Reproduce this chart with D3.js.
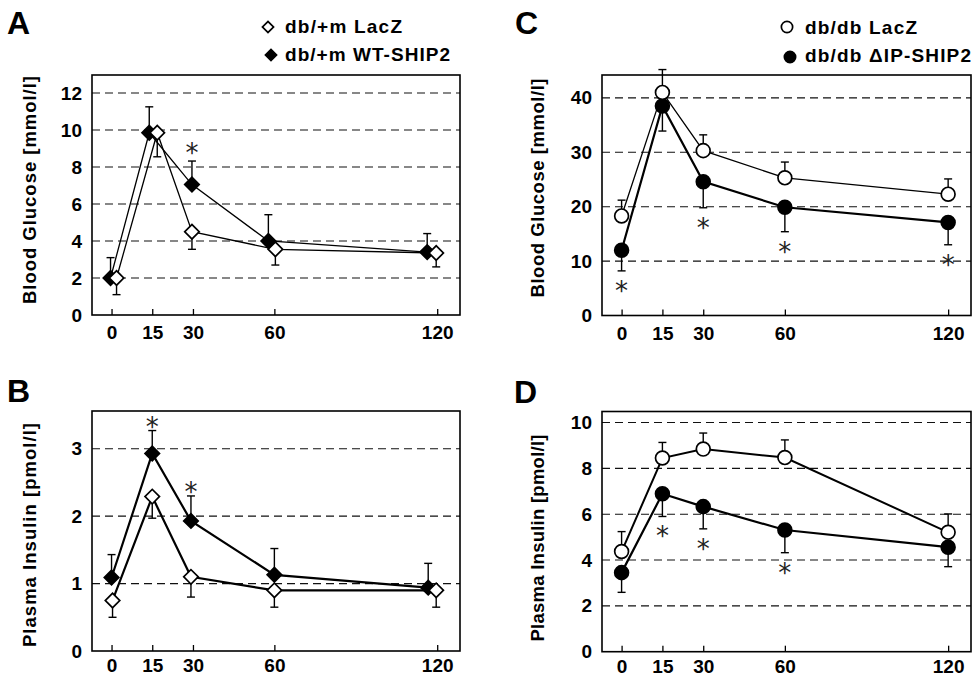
<!DOCTYPE html>
<html>
<head>
<meta charset="utf-8">
<script src="https://cdn.jsdelivr.net/npm/d3@7"></script>
<style>
  body { margin: 0; background: #fff; }
  svg { display: block; font-family: "Liberation Sans", Arial, sans-serif; }
</style>
</head>
<body>
<svg id="chart" width="974" height="679"></svg>
<script>
// time points (min)
const times = [0, 15, 30, 60, 120]

// A - blood glucose, db/+m
const glucLacZ_A = [2.0, 9.85, 4.5, 3.55, 3.35]
const glucLacZ_A_err = [0.9, 1.3, 0.95, 0.85, 0.75]
const glucWT_A = [2.0, 9.85, 7.05, 4.0, 3.4]
const glucWT_A_err = [1.1, 1.4, 1.27, 1.42, 1.0]

// B - plasma insulin, db/+m
const insLacZ_B = [0.75, 2.29, 1.1, 0.9, 0.9]
const insLacZ_B_err = [0.25, 0.32, 0.3, 0.25, 0.25]
const insWT_B = [1.09, 2.93, 1.93, 1.13, 0.94]
const insWT_B_err = [0.34, 0.34, 0.37, 0.39, 0.36]

// C - blood glucose, db/db
const glucLacZ_C = [18.3, 41.0, 30.3, 25.3, 22.3]
const glucLacZ_C_err = [2.9, 4.2, 2.9, 2.9, 2.8]
const glucDIP_C = [12.0, 38.5, 24.6, 19.9, 17.1]
const glucDIP_C_err = [3.8, 4.6, 4.8, 4.5, 4.1]

// D - plasma insulin, db/db
const insLacZ_D = [4.37, 8.45, 8.84, 8.47, 5.21]
const insLacZ_D_err = [0.87, 0.68, 0.7, 0.77, 0.8]
const insDIP_D = [3.45, 6.89, 6.33, 5.31, 4.56]
const insDIP_D_err = [0.86, 0.99, 0.97, 0.99, 0.85]

// significant time points (*)
const sigA = [30]
const sigB = [15, 30]
const sigC = [0, 30, 60, 120]
const sigD = [15, 30, 60]

const yTicksA = [0, 2, 4, 6, 8, 10, 12]
const yTicksB = [0, 1, 2, 3]
const yTicksC = [0, 10, 20, 30, 40]
const yTicksD = [0, 2, 4, 6, 8, 10]

const svg = d3.select('#chart')

function drawPanel(p) {
    var x = d3.scaleLinear().domain([-7.2, 128.4]).range([p.left, p.right])
    var y = d3.scaleLinear().domain([0, p.ymax]).range([p.bottom, p.top])
    var g = svg.append('g')

    // dashed grid
    g.selectAll('.grid').data(p.yticks.filter(d => d > 0)).enter().append('line')
        .attr('x1', p.left).attr('x2', p.right)
        .attr('y1', d => y(d)).attr('y2', d => y(d))
        .attr('stroke', '#111').attr('stroke-width', 1.1)
        .attr('stroke-dasharray', '8,5')

    // y tick labels
    var yAxis = d3.axisLeft(y).tickValues(p.yticks).tickFormat(d3.format('d')).tickSize(0).tickPadding(10)
    var ya = g.append('g').attr('transform', 'translate(' + p.left + ',0)').call(yAxis)
    ya.select('.domain').remove()
    ya.selectAll('text').attr('font-size', 19).attr('font-weight', 'bold')
        .attr('font-family', '"Liberation Sans", Arial, sans-serif').attr('fill', '#000')

    // x axis, ticks pointing inward
    var xAxis = d3.axisBottom(x).tickValues(times).tickSizeInner(-6).tickSizeOuter(0).tickPadding(p.xPad)
    var xa = g.append('g').attr('transform', 'translate(0,' + p.bottom + ')').call(xAxis)
    xa.select('.domain').remove()
    xa.selectAll('line').attr('stroke', '#000').attr('stroke-width', 1.3)
    xa.selectAll('text').attr('font-size', 19).attr('font-weight', 'bold')
        .attr('font-family', '"Liberation Sans", Arial, sans-serif').attr('fill', '#000')

    // frame
    g.append('rect')
        .attr('x', p.left).attr('y', p.top)
        .attr('width', p.right - p.left).attr('height', p.bottom - p.top)
        .attr('fill', 'none').attr('stroke', '#000').attr('stroke-width', 1.6)

    // y title
    g.append('text')
        .attr('transform', 'translate(' + p.titleX + ',' + p.titleY + ') rotate(-90)')
        .attr('text-anchor', 'middle').attr('dominant-baseline', 'central')
        .attr('font-size', 18.5).attr('font-weight', 'bold')
        .attr('textLength', p.titleLen).attr('lengthAdjust', 'spacing')
        .text(p.title)

    // panel letter
    g.append('text')
        .attr('x', p.letterX).attr('y', p.letterY)
        .attr('font-size', 32).attr('font-weight', 'bold')
        .text(p.letter)

    var px = (s, i) => x(times[i]) + (s.dodge ? s.dodge[i] : 0)

    // lines
    p.series.forEach(s => {
        var line = d3.line().x((d, i) => px(s, i)).y(d => y(d))
        g.append('path').datum(s.values)
            .attr('d', line).attr('fill', 'none')
            .attr('stroke', '#000').attr('stroke-width', s.width)
    })

    // error bars (one-sided)
    p.series.forEach(s => {
        var eb = g.selectAll(null).data(s.values).enter().append('g')
        eb.append('line')
            .attr('x1', (d, i) => px(s, i)).attr('x2', (d, i) => px(s, i))
            .attr('y1', d => y(d))
            .attr('y2', (d, i) => y(d + s.dir * s.err[i]))
            .attr('stroke', '#000').attr('stroke-width', 1.4)
        eb.append('line')
            .attr('x1', (d, i) => px(s, i) - 4).attr('x2', (d, i) => px(s, i) + 4)
            .attr('y1', (d, i) => y(d + s.dir * s.err[i]))
            .attr('y2', (d, i) => y(d + s.dir * s.err[i]))
            .attr('stroke', '#000').attr('stroke-width', 1.4)
    })

    // markers
    p.series.slice().reverse().forEach(s => {
        var sym = d3.symbol().type(s.shape === 'diamond' ? d3.symbolSquare : d3.symbolCircle)
            .size(s.shape === 'diamond' ? 105 : 150)
        g.selectAll(null).data(s.values).enter().append('path')
            .attr('d', sym)
            .attr('transform', (d, i) => 'translate(' + px(s, i) + ',' + y(d) + ')' +
                (s.shape === 'diamond' ? ' rotate(45)' : ''))
            .attr('fill', s.filled ? '#000' : '#fff')
            .attr('stroke', '#000').attr('stroke-width', 1.7)
    })

    // asterisks
    var sg = p.series[p.sigSeries]
    g.selectAll(null).data(p.sig).enter().append('text')
        .attr('x', t => px(sg, times.indexOf(t)))
        .attr('y', t => {
            var i = times.indexOf(t)
            var end = y(sg.values[i] + sg.dir * sg.err[i])
            var c = sg.dir > 0 ? end - p.sigGap : end + p.sigGap
            return c + 15
        })
        .attr('text-anchor', 'middle')
        .attr('font-family', '"DejaVu Sans", sans-serif')
        .attr('font-size', 26).attr('fill', '#222')
        .text('*')

    // legend
    if (p.legend) {
        p.legend.forEach((l, k) => {
            var s = p.series[k]
            var sym = d3.symbol().type(s.shape === 'diamond' ? d3.symbolSquare : d3.symbolCircle)
                .size(s.shape === 'diamond' ? 62 : 100)
            g.append('path').attr('d', sym)
                .attr('transform', 'translate(' + l.sx + ',' + l.sy + ')' +
                    (s.shape === 'diamond' ? ' rotate(45)' : ''))
                .attr('fill', s.filled ? '#000' : '#fff')
                .attr('stroke', '#000').attr('stroke-width', 1.7)
            g.append('text').attr('x', l.tx).attr('y', l.ty)
                .attr('font-size', 19).attr('font-weight', 'bold')
                .attr('textLength', l.len).attr('lengthAdjust', 'spacing')
                .text(l.label)
        })
    }
}

drawPanel({
    letter: 'A', letterX: 7, letterY: 34,
    left: 92, right: 460, top: 75, bottom: 315, ymax: 12.97, yticks: yTicksA, xPad: 11,
    title: 'Blood Glucose [mmol/l]', titleX: 29, titleY: 190, titleLen: 228,
    series: [
        { values: glucLacZ_A, err: glucLacZ_A_err, dir: -1, shape: 'diamond', filled: false, width: 1.3, dodge: [5, 5, -1, 1, -1] },
        { values: glucWT_A, err: glucWT_A_err, dir: 1, shape: 'diamond', filled: true, width: 1.3, dodge: [-1, -3, -1, -6, -10] }
    ],
    sig: sigA, sigSeries: 1, sigGap: 14,
    legend: [
        { label: 'db/+m LacZ', sx: 268, sy: 27, tx: 285, ty: 33, len: 117 },
        { label: 'db/+m WT-SHIP2', sx: 271, sy: 55, tx: 285, ty: 61, len: 165 }
    ]
})

drawPanel({
    letter: 'B', letterX: 7, letterY: 402,
    left: 92, right: 460, top: 411, bottom: 651, ymax: 3.56, yticks: yTicksB, xPad: 8,
    title: 'Plasma Insulin [pmol/l]', titleX: 29, titleY: 535, titleLen: 224,
    series: [
        { values: insLacZ_B, err: insLacZ_B_err, dir: -1, shape: 'diamond', filled: false, width: 2.2, dodge: [1, 0, -2, 0, -1] },
        { values: insWT_B, err: insWT_B_err, dir: 1, shape: 'diamond', filled: true, width: 2.2, dodge: [0, 0, -2, 0, -9] }
    ],
    sig: sigB, sigSeries: 1, sigGap: 10
})

drawPanel({
    letter: 'C', letterX: 515, letterY: 34,
    left: 602, right: 971, top: 75, bottom: 315.5, ymax: 44.2, yticks: yTicksC, xPad: 11,
    title: 'Blood Glucose [mmol/l]', titleX: 537, titleY: 188, titleLen: 219,
    series: [
        { values: glucLacZ_C, err: glucLacZ_C_err, dir: 1, shape: 'circle', filled: false, width: 1.3 },
        { values: glucDIP_C, err: glucDIP_C_err, dir: -1, shape: 'circle', filled: true, width: 2.2 }
    ],
    sig: sigC, sigSeries: 1, sigGap: 14,
    legend: [
        { label: 'db/db LacZ', sx: 787, sy: 27, tx: 805, ty: 34, len: 112 },
        { label: 'db/db \u0394IP-SHIP2', sx: 790, sy: 57, tx: 805, ty: 62, len: 166 }
    ]
})

drawPanel({
    letter: 'D', letterX: 514, letterY: 403,
    left: 602, right: 971, top: 411.5, bottom: 651.7, ymax: 10.48, yticks: yTicksD, xPad: 8,
    title: 'Plasma Insulin [pmol/l]', titleX: 537, titleY: 538, titleLen: 207,
    series: [
        { values: insLacZ_D, err: insLacZ_D_err, dir: 1, shape: 'circle', filled: false, width: 2 },
        { values: insDIP_D, err: insDIP_D_err, dir: -1, shape: 'circle', filled: true, width: 2.2 }
    ],
    sig: sigD, sigSeries: 1, sigGap: 14
})
</script>
</body>
</html>
